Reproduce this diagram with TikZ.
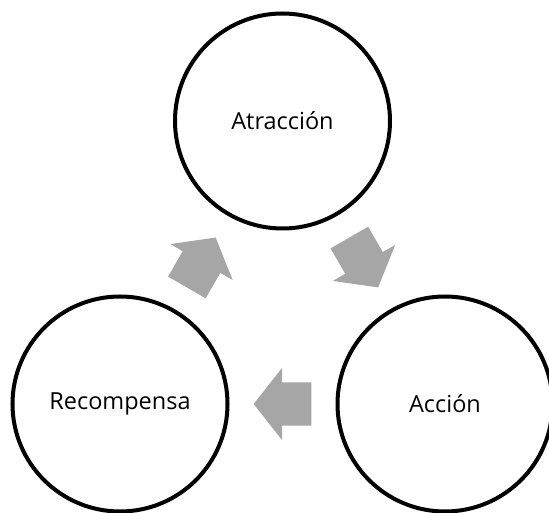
\documentclass[tikz,border=0pt]{standalone}
\usepackage{fontspec}
\setmainfont{Open Sans}
\usetikzlibrary{calc}
\definecolor{arrowgray}{HTML}{A6A6A6}
\tikzset{
  stage/.style={circle,draw=black,line width=4pt,minimum size=215pt,inner sep=0pt,
    font=\fontsize{23.5}{28}\selectfont},
  cycarrow/.pic={\fill[arrowgray](-28.8,-21.7)--(0.5,-21.7)--(0.5,-36)--(28.8,0)--(0.5,36)--(0.5,21.7)--(-28.8,21.7)--cycle;}
}
\begin{document}
\begin{tikzpicture}[x=1pt,y=1pt]
        \useasboundingbox(0,0)rectangle(549,512);
        \clip(0,0)rectangle(549,512);
        \node[stage](atr)at(282.5,391){Atracción};
        \node[stage](acc)at(445,108){Acción};
        \node[stage](rec)at(120,108){Recompensa};
        % arrows between the stages
        \pic[rotate=-60]at($(atr)!0.5!(acc)$){cycarrow};
        \pic[rotate=180]at($(acc)!0.5!(rec)$){cycarrow};
        \pic[rotate=60]at($(rec)!0.5!(atr)$){cycarrow};
    \end{tikzpicture}
\end{document}
